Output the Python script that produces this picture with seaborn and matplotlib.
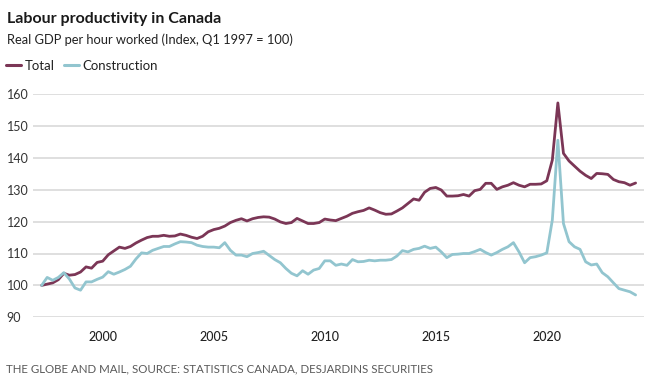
import numpy as np
import pandas as pd
import matplotlib
matplotlib.use("Agg")
import matplotlib.pyplot as plt
import seaborn as sns
from matplotlib.lines import Line2D

# ---- data (quarterly, Q1 1997 .. Q4 2023) ----
first_quarter = "1997Q1"
last_quarter = "2023Q4"
total = [
    100.0, 100.4, 100.8, 101.8, 103.8, 103.2, 103.4, 104.2, 105.8, 105.4,
    107.2, 107.6, 109.6, 110.8, 112.0, 111.6, 112.2, 113.3, 114.2, 115.0,
    115.4, 115.4, 115.7, 115.4, 115.5, 116.1, 115.7, 115.1, 114.7, 115.4,
    116.8, 117.5, 117.9, 118.6, 119.7, 120.4, 120.9, 120.2, 120.9, 121.3,
    121.5, 121.4, 120.8, 119.9, 119.4, 119.7, 121.0, 120.2, 119.4, 119.4,
    119.7, 120.8, 120.5, 120.3, 121.0, 121.7, 122.6, 123.1, 123.5, 124.3,
    123.6, 122.8, 122.3, 122.4, 123.3, 124.3, 125.7, 127.1, 126.7, 129.2,
    130.4, 130.7, 129.9, 128.0, 128.0, 128.1, 128.5, 128.0, 129.7, 130.1,
    132.0, 132.0, 130.1, 130.9, 131.4, 132.2, 131.4, 130.9, 131.7, 131.7,
    131.8, 132.8, 139.3, 157.2, 141.4, 139.0, 137.4, 135.8, 134.5, 133.5,
    135.1, 135.0, 134.8, 133.2, 132.5, 132.2, 131.4, 132.1,
]
construction = [
    100.0, 102.5, 101.6, 102.5, 104.0, 102.0, 99.2, 98.5, 101.1, 101.1,
    101.9, 102.6, 104.3, 103.5, 104.2, 105.0, 106.0, 108.3, 110.2, 110.0,
    111.0, 111.6, 112.2, 112.2, 113.0, 113.7, 113.6, 113.4, 112.6, 112.2,
    112.0, 112.0, 111.8, 113.4, 111.0, 109.5, 109.5, 109.0, 110.0, 110.3,
    110.7, 109.4, 108.1, 107.1, 105.3, 103.8, 103.0, 104.6, 103.5, 104.8,
    105.3, 107.7, 107.7, 106.3, 106.7, 106.3, 108.1, 107.4, 107.5, 107.9,
    107.7, 107.9, 107.9, 108.1, 109.2, 110.9, 110.5, 111.3, 111.6, 112.3,
    111.6, 112.0, 110.5, 108.7, 109.7, 109.8, 110.0, 110.0, 110.6, 111.3,
    110.3, 109.5, 110.3, 111.3, 112.1, 113.4, 110.5, 107.1, 108.7, 109.0,
    109.5, 110.2, 120.5, 145.5, 119.4, 113.7, 112.1, 111.3, 107.4, 106.4,
    106.7, 104.0, 102.7, 100.8, 99.0, 98.5, 98.0, 97.0,
]
series_names = ["Total", "Construction"]
year_ticks = [2000, 2005, 2010, 2015, 2020]
y_ticks = [90, 100, 110, 120, 130, 140, 150, 160]

title = "Labour productivity in Canada"
subtitle = "Real GDP per hour worked (Index, Q1 1997 = 100)"
footer = "THE GLOBE AND MAIL, SOURCE: STATISTICS CANADA, DESJARDINS SECURITIES"

# ---- build table ----
dates = pd.period_range(first_quarter, last_quarter, freq="Q").to_timestamp(how="end")
df = pd.concat([
    pd.DataFrame({"date": dates, "value": total, "series": series_names[0]}),
    pd.DataFrame({"date": dates, "value": construction, "series": series_names[1]}),
])

sns.set_theme(style="white")
plt.rcParams["font.family"] = ["Lato", "DejaVu Sans"]

W, H = 650, 383
fig = plt.figure(figsize=(W / 100, H / 100), dpi=100)
left_px, right_px, top_px, bottom_px = 33, 644, 94, 317.3
ax = fig.add_axes([left_px / W, 1 - bottom_px / H,
                   (right_px - left_px) / W, (bottom_px - top_px) / H])

colors = {"Total": "#7b3656", "Construction": "#92c5cf"}
sns.lineplot(data=df, x="date", y="value", hue="series", hue_order=series_names,
             palette=colors, linewidth=2.0, ax=ax, legend=False, zorder=3)

ax.set_xlim(pd.Timestamp("1996-11-10"), pd.Timestamp("2024-05-18"))
ax.set_ylim(90, 160)
ax.set_yticks(y_ticks)
ax.set_yticklabels([str(v) for v in y_ticks])
ax.yaxis.grid(True, color="#dcdcdc", linewidth=1.3)
ax.xaxis.grid(False)
for s in ax.spines.values():
    s.set_visible(False)
ax.set_xticks([pd.Timestamp(f"{y}-01-01") for y in year_ticks])
ax.set_xticklabels([str(y) for y in year_ticks])
ax.set_xlabel("")
ax.set_ylabel("")
ax.tick_params(axis="x", direction="out", length=4, width=1.0, color="#555555",
               pad=6, labelsize=9, labelcolor="#222222")
ax.tick_params(axis="y", length=0, pad=19, labelsize=9, labelcolor="#333333")
for lab in ax.get_yticklabels():
    lab.set_horizontalalignment("left")
for lab in ax.get_xticklabels():
    lab.set_fontweight("medium")

# ---- texts ----
fig.text(7 / W, 1 - 19 / H, title, fontsize=11.5, fontweight="bold",
         color="#1a1a1a", va="center", ha="left")
fig.text(7 / W, 1 - 40 / H, subtitle, fontsize=9.3, color="#222222",
         va="center", ha="left")
fig.text(6 / W, 1 - 369 / H, footer, fontsize=8.3, color="#5a5a5a",
         va="center", ha="left")

# legend
handles = [Line2D([0], [0], color=colors[n], linewidth=2.2) for n in series_names]
fig.legend(handles, series_names, loc="center left",
           bbox_to_anchor=(6 / W, 1 - 66 / H), ncol=2, frameon=False,
           borderpad=0, borderaxespad=0,
           handlelength=1.1, handletextpad=0.3, columnspacing=0.75,
           fontsize=9.5, labelcolor="#222222")

fig.savefig("out.png", dpi=100)
